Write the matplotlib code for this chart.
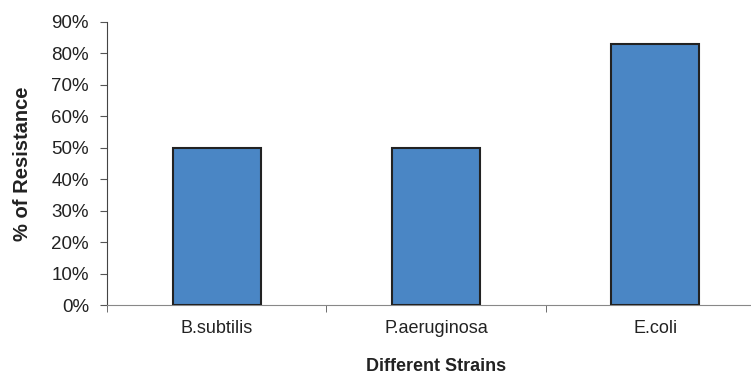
import matplotlib
matplotlib.use("Agg")
import matplotlib.pyplot as plt
from matplotlib.ticker import PercentFormatter, FixedLocator

categories = ["B.subtilis", "P.aeruginosa", "E.coli"]
resistance = [0.50, 0.50, 0.83]
yticks = [0, 0.1, 0.2, 0.3, 0.4, 0.5, 0.6, 0.7, 0.8, 0.9]

plt.rcParams['font.family'] = ['Liberation Sans', 'DejaVu Sans']

fig = plt.figure(figsize=(7.51, 3.75), dpi=100)
ax = fig.add_axes([107/751, 70/375, 658/751, 283/375])

x = range(len(categories))
ax.bar(x, resistance, width=0.4, color="#4A86C5", edgecolor="#222222", linewidth=1.5, zorder=3)

ax.set_xlim(-0.5, 2.5)
ax.set_ylim(0, 0.9)
ax.set_yticks(yticks)
ax.yaxis.set_major_formatter(PercentFormatter(1.0, decimals=0))
ax.set_xticks(list(x))
ax.set_xticklabels(categories, fontsize=13, color="#222222")
ax.tick_params(axis='x', which='major', length=0, pad=11)
ax.xaxis.set_minor_locator(FixedLocator([-0.5, 0.5, 1.5, 2.5]))
ax.tick_params(axis='x', which='minor', length=5, color="#555555", direction='out')
ax.tick_params(axis='y', length=5, color="#555555", direction='out', labelsize=13.5, labelcolor="#222222", pad=8)

for s in ['top', 'right']:
    ax.spines[s].set_visible(False)
ax.spines['left'].set_color("#444444")
ax.spines['bottom'].set_color("#888888")

ax.set_ylabel("% of Resistance", fontsize=14.5, fontweight='bold', color="#222222", labelpad=14)
ax.set_xlabel("Different Strains", fontsize=13, fontweight='bold', color="#222222", labelpad=15)

fig.savefig("out.png", dpi=100)
